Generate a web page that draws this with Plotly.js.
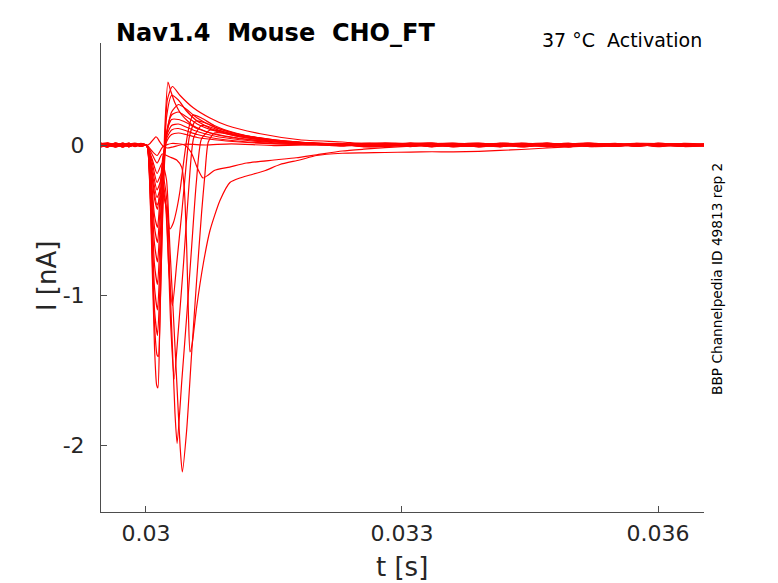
<!DOCTYPE html>
<html>
<head>
<meta charset="utf-8">
<script src="https://cdn.plot.ly/plotly-3.0.1.min.js"></script>
<style>html,body{margin:0;padding:0;background:#fff;}#chart{width:778px;height:583px;}</style>
</head>
<body>
<div id="chart"></div>
<script>
// Times in ms (converted to seconds for plotting), currents in nA
const sweepNames = ['F1','F2','F3','F4','F5','F6','F7','F8','F9','F10','L1','L2','L3','L4','L5','L6','L7'];

const preT = [29.47, 29.55, 29.64, 29.73, 29.8, 29.87, 29.94, 30.0];
const tailT = [32.3, 32.55, 32.8, 33.1, 33.35, 33.6, 33.9, 34.15, 34.4, 34.7, 34.95, 35.2, 35.5, 35.75, 36.0, 36.3, 36.54];
const fastT = [30.02, 30.06, 30.10, 30.135, 30.16, 30.2, 30.24, 30.3, 30.38, 30.47, 30.6, 30.8, 31.1, 31.5, 32.0];

const preI = [
  [0.012,-0.008,0.006,-0.013,0.01,-0.004,0.005,0],
  [-0.01,0.012,-0.004,0.009,-0.012,0.006,-0.006,0.002],
  [0.004,-0.013,0.014,-0.003,0.008,-0.009,0.006,-0.002],
  [-0.014,0.003,-0.009,0.012,-0.004,0.01,-0.005,0],
  [0.009,0.014,-0.008,0.002,-0.011,0.007,-0.009,0.001],
  [-0.003,-0.011,0.008,-0.013,0.01,-0.006,0.008,-0.001],
  [0.013,-0.002,0.005,0.011,-0.007,0.004,-0.005,0.002],
  [-0.008,0.009,-0.013,0.002,0.012,-0.008,0.01,0],
  [0.002,-0.014,0.011,-0.006,0.004,0.012,0.003,-0.002],
  [-0.012,0.006,0.002,-0.01,0.013,-0.006,0.011,0.001],
  [0.01,-0.004,-0.011,0.007,-0.002,0.009,-0.002,0],
  [-0.006,0.011,0.005,-0.014,0.004,-0.003,0.004,-0.001],
  [0.014,-0.008,0.001,0.01,-0.012,0.005,-0.01,0.001],
  [-0.002,0.007,-0.014,0.005,0.009,-0.011,0.007,0],
  [0.006,-0.013,0.012,-0.002,-0.007,0.01,-0.006,0.002],
  [-0.011,0.002,0.009,-0.009,0.011,0.003,0.009,-0.001],
  [0.003,0.01,-0.006,0.013,-0.009,-0.004,-0.008,0]
];

const coreT = [
  [30.02,30.06,30.10,30.125,30.14,30.16,30.19,30.22,30.258,30.29,30.34,30.42,30.55,30.75,31.0,31.4,31.9],
  [30.02,30.06,30.10,30.13,30.145,30.17,30.21,30.25,30.31,30.4,30.55,30.75,30.95,31.34,31.8],
  fastT, fastT, fastT, fastT, fastT, fastT, fastT,
  [30.02,30.05,30.08,30.1,30.117,30.135,30.16,30.2,30.25,30.32,30.45,30.7,31.0,31.5,32.0],
  [30.02,30.07,30.13,30.19,30.24,30.28,30.32,30.36,30.4,30.44,30.49,30.55,30.65,30.8,31.05,31.4,31.9],
  [30.02,30.07,30.13,30.19,30.23,30.27,30.31,30.36,30.42,30.46,30.51,30.58,30.68,30.85,31.1,31.5,32.0],
  [30.02,30.07,30.13,30.19,30.24,30.29,30.33,30.38,30.44,30.5,30.56,30.65,30.75,30.9,31.15,31.5,32.0],
  [30.02,30.07,30.13,30.19,30.23,30.255,30.28,30.31,30.34,30.365,30.42,30.48,30.535,30.59,30.65,30.75,30.9,31.1,31.5,32.0],
  [30.02,30.07,30.13,30.19,30.24,30.28,30.32,30.36,30.4,30.426,30.477,30.535,30.594,30.652,30.69,30.73,30.8,30.9,31.1,31.5,32.0],
  [30.02,30.07,30.13,30.19,30.28,30.36,30.42,30.45,30.477,30.497,30.516,30.54,30.594,30.672,30.75,30.867,30.984,31.1,31.22,31.4,31.57,31.8,32.0],
  [30.02,30.07,30.13,30.2,30.3,30.45,30.53,30.6,30.668,30.73,30.8,30.98,31.18,31.5,31.76,32.0]
];

const coreI = [
  [-0.02,-0.55,-1.35,-1.6,-1.62,-1.25,-0.55,0.1,0.42,0.36,0.28,0.2,0.13,0.08,0.05,0.025,0.012],
  [-0.02,-0.5,-1.2,-1.4,-1.41,-1.0,-0.2,0.3,0.39,0.33,0.25,0.18,0.13,0.075,0.035],
  [-0.02,-0.45,-1.1,-1.27,-1.0,-0.3,0.18,0.33,0.3,0.23,0.16,0.1,0.06,0.03,0.012],
  [-0.02,-0.4,-0.95,-1.10,-0.85,-0.3,0.05,0.22,0.27,0.24,0.18,0.12,0.07,0.035,0.012],
  [-0.02,-0.33,-0.8,-0.93,-0.7,-0.22,0.08,0.2,0.22,0.19,0.14,0.095,0.055,0.025,0.008],
  [-0.02,-0.28,-0.66,-0.78,-0.58,-0.17,0.08,0.17,0.17,0.15,0.11,0.075,0.045,0.02,0.005],
  [-0.02,-0.23,-0.55,-0.65,-0.47,-0.13,0.06,0.13,0.14,0.12,0.09,0.06,0.035,0.015,0.004],
  [-0.01,-0.2,-0.47,-0.55,-0.39,-0.1,0.04,0.1,0.11,0.095,0.07,0.045,0.025,0.01,0.002],
  [-0.01,-0.15,-0.36,-0.43,-0.3,-0.07,0.02,0.07,0.08,0.07,0.05,0.035,0.02,0.008,0.0],
  [0.0,0.012,0.032,0.046,0.055,0.046,0.022,-0.008,-0.02,-0.012,0.005,0.0,0.008,-0.004,0.003],
  [-0.01,-0.2,-0.4,-0.32,-0.42,-0.56,-0.52,-0.43,-0.3,-0.12,0.08,0.2,0.18,0.13,0.08,0.04,0.012],
  [-0.01,-0.17,-0.35,-0.27,-0.4,-0.85,-1.07,-0.79,-0.45,-0.2,0.06,0.16,0.15,0.11,0.07,0.035,0.01],
  [-0.01,-0.14,-0.3,-0.22,-0.45,-1.2,-1.56,-1.23,-0.79,-0.3,0.05,0.13,0.12,0.09,0.06,0.03,0.01],
  [-0.01,-0.11,-0.25,-0.18,-0.3,-0.45,-0.9,-1.35,-1.79,-1.99,-1.57,-1.12,-0.68,-0.25,0.04,0.1,0.09,0.06,0.03,0.01],
  [-0.01,-0.09,-0.19,-0.12,-0.23,-0.68,-1.12,-1.57,-2.01,-2.18,-1.9,-1.39,-0.9,-0.45,-0.2,0.02,0.08,0.08,0.055,0.025,0.008],
  [-0.01,-0.06,-0.12,-0.06,-0.08,-0.1,-0.15,-0.3,-0.68,-1.12,-1.38,-1.33,-1.08,-0.79,-0.57,-0.37,-0.25,-0.22,-0.2,-0.17,-0.13,-0.1,-0.07],
  [-0.005,-0.04,-0.07,-0.01,0.01,0.0,-0.05,-0.15,-0.22,-0.2,-0.17,-0.147,-0.12,-0.1,-0.085,-0.065]
];

const tailI = [
  [0.008,-0.006,0.004,-0.008,0.012,-0.003,0.007,-0.011,0.004,0.013,-0.005,0.006,-0.009,0.008,-0.003,0.01,-0.003],
  [0.02,0.009,0.014,0.006,-0.006,0.008,-0.012,0.005,-0.002,0.011,0.003,-0.01,0.004,-0.007,0.012,-0.004,0.004],
  [0.005,-0.01,-0.007,0.011,0.002,-0.013,0.006,0.001,-0.008,0.01,-0.012,0.005,0.009,-0.006,0.003,-0.01,0.002],
  [0.006,0.012,0.01,-0.006,0.007,0.002,-0.01,0.012,0.003,-0.008,0.007,-0.002,0.011,-0.009,0.005,0.008,0.005],
  [-0.004,0.008,0.006,0.013,-0.008,0.005,0.011,-0.004,0.009,0.001,-0.009,0.01,-0.005,0.004,-0.011,0.006,-0.004],
  [0.003,-0.012,-0.01,0.004,0.01,-0.009,0.002,0.011,-0.013,0.005,0.008,-0.005,0.001,0.009,-0.007,0.003,0.001],
  [-0.008,0.004,0.002,-0.011,0.005,0.012,-0.004,-0.008,0.009,-0.012,0.004,0.01,-0.006,-0.002,0.008,-0.01,-0.006],
  [0.009,-0.005,-0.003,0.008,-0.012,0.004,0.013,-0.002,-0.007,0.006,-0.01,0.002,0.009,-0.004,0.011,0.001,0.007],
  [-0.002,0.01,0.008,-0.006,0.003,-0.011,0.005,0.009,-0.01,-0.003,0.012,-0.008,0.003,0.011,-0.005,0.006,0.003],
  [0.004,-0.003,-0.009,0.002,0.011,0.006,-0.013,0.003,0.012,-0.004,-0.002,0.013,-0.007,0.005,0.002,-0.009,-0.005],
  [0.006,0.01,0.002,-0.01,0.004,0.011,-0.003,-0.012,0.006,0.002,0.01,-0.009,0.004,-0.006,0.009,0.003,0.004],
  [-0.003,0.004,0.009,0.003,-0.011,0.001,0.01,0.004,-0.009,0.012,-0.004,0.003,-0.01,0.008,-0.003,-0.008,-0.008],
  [0.004,-0.002,-0.007,0.012,0.002,-0.008,-0.002,0.01,0.005,-0.011,0.006,0.012,0.001,-0.006,0.01,-0.002,0.001],
  [0.002,-0.008,0.011,-0.002,-0.009,0.01,0.004,-0.008,0.011,0.003,-0.013,0.004,0.008,0.006,-0.009,0.011,0.006],
  [0.001,0.007,-0.008,0.009,0.013,-0.006,0.006,0.002,-0.011,0.009,0.005,-0.011,0.002,-0.004,0.007,-0.006,0.002],
  [-0.055,-0.052,-0.05,-0.047,-0.045,-0.046,-0.042,-0.036,-0.03,-0.02,-0.012,-0.006,0.005,-0.008,0.004,0.009,-0.002],
  [-0.04,-0.028,-0.018,-0.008,0.004,-0.009,-0.006,0.01,0.008,-0.003,0.008,-0.01,-0.005,0.011,0.009,-0.003,0.005]
];

const xTickVals = [0.03, 0.033, 0.036];
const xTickText = ['0.03', '0.033', '0.036'];
const yTickVals = [0, -1, -2];
const yTickText = ['0', '-1', '-2'];

const titleText = 'Nav1.4\u00a0 Mouse\u00a0 CHO_FT';
const subText = '37 \u00b0C\u00a0 Activation';
const sideText = 'BBP Channelpedia ID 49813 rep 2';

const traces = sweepNames.map((name, k) => ({
  type: 'scatter',
  mode: 'lines',
  name: name,
  x: preT.concat(coreT[k], tailT).map(ms => ms / 1000),
  y: preI[k].concat(coreI[k], tailI[k]),
  line: {color: '#ff0000', width: 1.2, shape: 'spline', smoothing: 0.6},
  hoverinfo: 'skip',
  showlegend: false
}));

const font = 'DejaVu Sans, Liberation Sans, sans-serif';
const axisCommon = {
  showline: true, linecolor: '#4d4d4d', linewidth: 1,
  ticks: 'inside', ticklen: 6, tickwidth: 1, tickcolor: '#4d4d4d',
  showgrid: false, zeroline: false, mirror: false,
  tickfont: {family: font, size: 22, color: '#262626'}
};

const layout = {
  width: 778, height: 583,
  margin: {l: 101, r: 74, t: 43, b: 71, pad: 0},
  paper_bgcolor: '#ffffff', plot_bgcolor: '#ffffff',
  showlegend: false,
  xaxis: Object.assign({}, axisCommon, {
    range: [0.029473, 0.036539], tickmode: 'array',
    tickvals: xTickVals, ticktext: xTickText, ticklabelstandoff: 2
  }),
  yaxis: Object.assign({}, axisCommon, {
    range: [-2.4467, 0.68], tickmode: 'array',
    tickvals: yTickVals, ticktext: yTickText, ticklabelstandoff: 11
  }),
  annotations: [
    {text: '<b>' + titleText + '</b>', xref: 'paper', yref: 'paper', x: 0.0215, y: 1.021,
     xanchor: 'left', yanchor: 'middle', showarrow: false,
     font: {family: font, size: 24, color: '#000000'}},
    {text: subText, xref: 'paper', yref: 'paper', x: 1.0, y: 1.006,
     xanchor: 'right', yanchor: 'middle', showarrow: false,
     font: {family: font, size: 19, color: '#000000'}},
    {text: sideText, xref: 'paper', yref: 'paper', x: 1.0216, y: 0.497,
     xanchor: 'center', yanchor: 'middle', textangle: -90, showarrow: false,
     font: {family: font, size: 13.7, color: '#000000'}},
    {text: 't [s]', xref: 'paper', yref: 'paper', x: 0.4992, y: -0.117,
     xanchor: 'center', yanchor: 'middle', showarrow: false,
     font: {family: font, size: 26, color: '#262626'}},
    {text: 'I [nA]', xref: 'paper', yref: 'paper', x: -0.0896, y: 0.503,
     xanchor: 'center', yanchor: 'middle', textangle: -90, showarrow: false,
     font: {family: font, size: 26, color: '#262626'}}
  ]
};

Plotly.newPlot('chart', traces, layout, {staticPlot: true, displayModeBar: false});
</script>
</body>
</html>
